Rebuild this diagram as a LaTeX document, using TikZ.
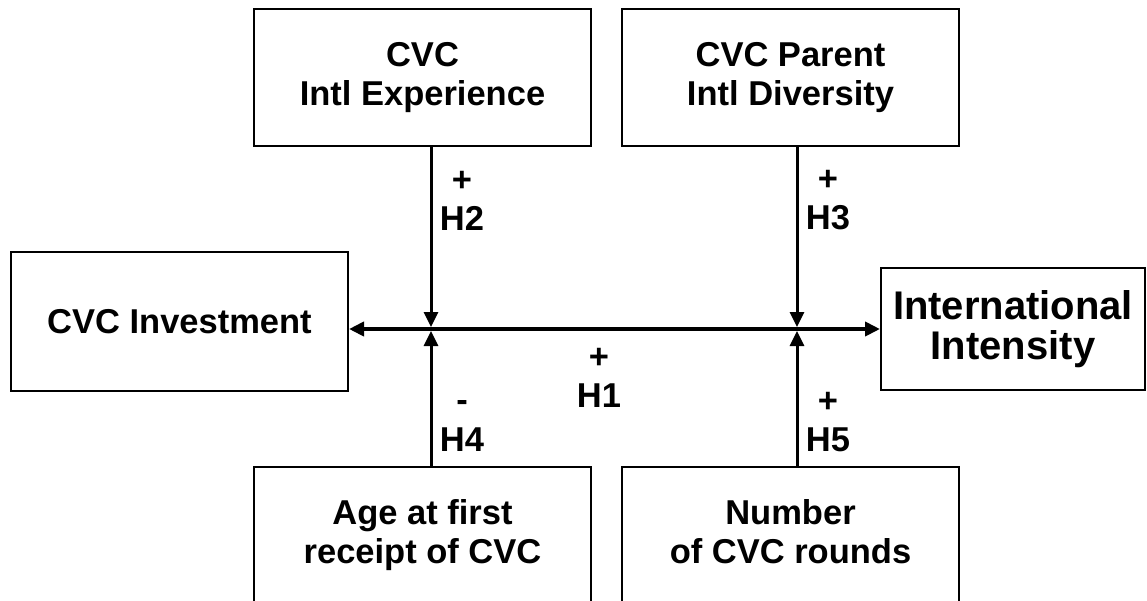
\documentclass[tikz,border=0pt]{standalone}
\usepackage{fontspec}
\setmainfont{Liberation Sans}
\usetikzlibrary{arrows.meta}
\newcommand{\txtsize}{\fontsize{34.5}{39}\selectfont\bfseries}
\newcommand{\bigsize}{\fontsize{40}{40.5}\selectfont\bfseries}
\tikzset{
  boite/.style={draw, line width=2pt, align=center, font=\txtsize, inner sep=0pt},
  lien/.style={line width=3pt, -{Triangle[length=15pt,width=14pt]}, shorten >=2pt},
  hyp/.style={font=\txtsize, align=center, anchor=south, inner sep=0pt},
}

\begin{document}
\begin{tikzpicture}[x=1pt, y=-1pt]

    \useasboundingbox (0, 0) rectangle (1147, 600);

    % boites
    \node[boite, minimum width=337pt, minimum height=139pt] (inv) at (179.5, 321.5) {CVC Investment};
    \node[boite, font=\bigsize, minimum width=264pt, minimum height=122pt] (intens) at (1013, 329) {International\\Intensity};
    \node[boite, minimum width=337pt, minimum height=137pt] (iexp) at (422.5, 77.5) {CVC\\Intl Experience};
    \node[boite, minimum width=337pt, minimum height=137pt] (pdiv) at (790.5, 77.5) {CVC Parent\\Intl Diversity};
    \node[boite, minimum width=337pt, minimum height=137pt] (age) at (422.5, 535.5) {Age at first\\receipt of CVC};
    \node[boite, minimum width=337pt, minimum height=137pt] (rounds) at (790.5, 535.5) {Number\\of CVC rounds\vphantom{p}};

    % croisements
    \coordinate (jA) at (431, 329);
    \coordinate (jB) at (797, 329);

    % fleche principale
    \draw[line width=4pt, {Triangle[length=15pt,width=14pt]}-{Triangle[length=15pt,width=14pt]}] (inv.east |- jA) -- (intens.west |- jA);

    % moderateurs
    \draw[lien] (iexp.south -| jA) -- (jA);
    \draw[lien] (pdiv.south -| jB) -- (jB);
    \draw[lien] (age.north -| jA) -- (jA);
    \draw[lien] (rounds.north -| jB) -- (jB);

    % hypotheses
    \node[hyp] (h1) at (599, 408) {+\\H1};
    \node[hyp] (h2) at (462, 230.5) {+\\H2};
    \node[hyp] (h3) at (828, 230.5) {+\\H3};
    \node[hyp, font=\fontsize{34.5}{40}\selectfont\bfseries] (h4) at (462, 452) {-\\H4};
    \node[hyp] (h5) at (828, 452) {+\\H5};

\end{tikzpicture}
\end{document}
